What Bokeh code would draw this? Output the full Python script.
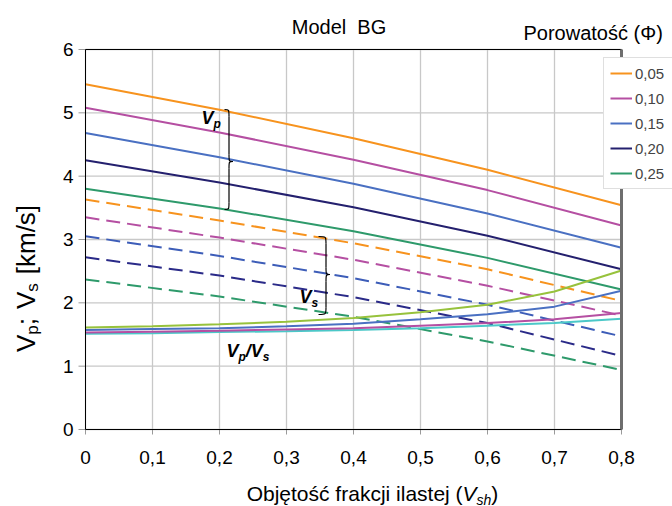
import math
from bokeh.plotting import figure
from bokeh.models import Range1d, Label, Legend, LegendItem
from bokeh.embed import file_html
from bokeh.resources import INLINE

# ---- data -----------------------------------------------------------------
vsh = [0.0, 0.2, 0.4, 0.6, 0.8]
porosity_labels = ["0,05", "0,10", "0,15", "0,20", "0,25"]

vp_005 = [5.45, 5.05, 4.60, 4.10, 3.54]
vp_010 = [5.08, 4.69, 4.26, 3.78, 3.22]
vp_015 = [4.68, 4.30, 3.88, 3.41, 2.87]
vp_020 = [4.25, 3.90, 3.51, 3.06, 2.53]
vp_025 = [3.80, 3.49, 3.13, 2.71, 2.21]

vs_005 = [3.63, 3.30, 2.94, 2.53, 2.03]
vs_010 = [3.35, 3.03, 2.68, 2.27, 1.80]
vs_015 = [3.05, 2.74, 2.39, 1.97, 1.47]
vs_020 = [2.72, 2.43, 2.09, 1.68, 1.16]
vs_025 = [2.37, 2.10, 1.78, 1.39, 0.94]

vsh_ratio = [0.0, 0.1, 0.2, 0.3, 0.4, 0.5, 0.6, 0.7, 0.8]
ratio_005 = [1.51, 1.52, 1.54, 1.55, 1.57, 1.60, 1.64, 1.68, 1.75]
ratio_010 = [1.53, 1.545, 1.56, 1.58, 1.60, 1.64, 1.68, 1.74, 1.84]
ratio_020 = [1.57, 1.585, 1.60, 1.63, 1.67, 1.74, 1.82, 1.94, 2.19]
ratio_025 = [1.61, 1.63, 1.66, 1.70, 1.76, 1.85, 1.97, 2.18, 2.51]

x_ticks = [0.0, 0.1, 0.2, 0.3, 0.4, 0.5, 0.6, 0.7, 0.8]
x_tick_labels = ["0", "0,1", "0,2", "0,3", "0,4", "0,5", "0,6", "0,7", "0,8"]
y_ticks = [0, 1, 2, 3, 4, 5, 6]
y_tick_labels = ["0", "1", "2", "3", "4", "5", "6"]

# ---- styling --------------------------------------------------------------
FONT = "Liberation Sans"
vp_colors = ["#F7931E", "#B54FA2", "#4A70C2", "#24206E", "#2E9A6B"]
vs_colors = ["#F7931E", "#B54FA2", "#3D5DB8", "#2A2A88", "#2E9A6B"]
ratio_colors = {"005": "#4BC8C8", "010": "#B54FA2", "020": "#4A70C2", "025": "#97C23C"}
GRID = "#C8C8C8"
TICK = "#9A9A9A"

W, H = 672, 506
# pixel box of the plotting area on the page
FL, FR, FT, FB = 85, 621, 49, 429
X_MIN, X_MAX, Y_MIN, Y_MAX = 0.0, 0.8, 0.0, 6.0


def dx(px):
    return X_MIN + (px - FL) * (X_MAX - X_MIN) / (FR - FL)


def dy(py):
    return Y_MIN + (FB - py) * (Y_MAX - Y_MIN) / (FB - FT)


# Arial / Liberation Sans advance widths (per 1000 em)
_W = {'V': 667, 'p': 556, ';': 278, ' ': 278, 's': 500, '[': 278, 'k': 500,
      'm': 833, '/': 278, ']': 278, 'O': 778, 'b': 556, 'j': 222, 'ę': 556,
      't': 278, 'o': 556, 'ś': 500, 'ć': 500, 'f': 278, 'r': 333, 'a': 556,
      'c': 500, 'i': 222, 'l': 222, 'e': 556, '(': 333, ')': 333, 'h': 556}
_WB = {'V': 667, 'p': 611, 's': 556, '/': 278}


def text_w(s, size, bold=False):
    tab = _WB if bold else _W
    return sum(tab.get(c, _W.get(c, 556)) for c in s) * size / 1000.0


# the frame covers the whole page; the chart box is placed through the ranges
p = figure(width=W, height=H,
           x_range=Range1d(dx(0), dx(W)), y_range=Range1d(dy(H), dy(0)),
           x_axis_location=None, y_axis_location=None,
           output_backend="svg", toolbar_location=None, min_border=0)
p.background_fill_color = "white"
p.border_fill_color = "white"
p.outline_line_color = None
p.grid.visible = False

# ---- grid, ticks, frame ------------------------------------------------------
p.segment(x0=x_ticks, y0=[Y_MIN] * len(x_ticks), x1=x_ticks, y1=[Y_MAX] * len(x_ticks),
          line_color=GRID, line_width=1.3)
p.segment(x0=[X_MIN] * len(y_ticks), y0=y_ticks, x1=[X_MAX] * len(y_ticks), y1=y_ticks,
          line_color=GRID, line_width=1.3)
# tick marks outside the box
p.segment(x0=x_ticks, y0=[Y_MIN] * len(x_ticks), x1=x_ticks, y1=[dy(FB + 5)] * len(x_ticks),
          line_color=TICK, line_width=1)
p.segment(x0=[X_MIN] * len(y_ticks), y0=y_ticks, x1=[dx(FL - 7)] * len(y_ticks), y1=y_ticks,
          line_color=TICK, line_width=1)

# ---- series ---------------------------------------------------------------
vp_series = [vp_005, vp_010, vp_015, vp_020, vp_025]
vs_series = [vs_005, vs_010, vs_015, vs_020, vs_025]

vp_renderers = []
for ys, c in zip(vp_series, vp_colors):
    vp_renderers.append(p.line(vsh, ys, line_color=c, line_width=2))
for ys, c in zip(vs_series, vs_colors):
    p.line(vsh, ys, line_color=c, line_width=2, line_dash="14 7")
for key, ys in (("005", ratio_005), ("010", ratio_010), ("020", ratio_020), ("025", ratio_025)):
    p.line(vsh_ratio, ys, line_color=ratio_colors[key], line_width=2)

# box edges: black on three sides, heavier grey on the right
p.segment(x0=[X_MIN, X_MIN, X_MIN], y0=[Y_MIN, Y_MAX, Y_MIN],
          x1=[X_MAX, X_MAX, X_MIN], y1=[Y_MIN, Y_MAX, Y_MAX],
          line_color="black", line_width=1)
p.segment(x0=[X_MAX], y0=[Y_MIN], x1=[X_MAX], y1=[Y_MAX], line_color="#6E6E6E", line_width=3)

# tick labels
p.text(x=x_ticks, y=[dy(457)] * len(x_ticks), text=x_tick_labels,
       text_font={"value": FONT}, text_font_size="19px", text_align="center",
       text_baseline="middle", text_color="black")
p.text(x=[dx(73)] * len(y_ticks), y=y_ticks, text=y_tick_labels,
       text_font={"value": FONT}, text_font_size="19px", text_align="right",
       text_baseline="middle", text_color="black")

# ---- legend ---------------------------------------------------------------
legend = Legend(items=[LegendItem(label=lab, renderers=[r])
                       for lab, r in zip(porosity_labels, vp_renderers)],
                location=(603, H - 189))
legend.label_text_font = FONT
legend.label_text_font_size = "15px"
legend.glyph_width = 22
legend.glyph_height = 18
legend.label_height = 18
legend.label_width = 50
legend.label_standoff = 3
legend.spacing = 7
legend.padding = 6
legend.margin = 0
legend.border_line_color = "#BFBFBF"
legend.background_fill_color = "white"
legend.background_fill_alpha = 1
p.add_layout(legend)


# ---- text ------------------------------------------------------------------
def add_label(px, py, text, size, style="normal", align="left", angle=0.0):
    p.add_layout(Label(x=dx(px), y=dy(py), text=text, text_font=FONT,
                       text_font_size=f"{size}px", text_font_style=style,
                       text_align=align, text_baseline="middle", angle=angle,
                       text_color="black"))


def add_rich(px, py, pieces):
    """pieces: (text, size, style, drop, advance) laid left to right around one centre line."""
    x = px
    for text, size, style, drop, adv in pieces:
        add_label(x, py + drop, text, size, style)
        x += text_w(text, size, bold="bold" in style) + adv


def rich_width(pieces):
    return sum(text_w(t, s, bold="bold" in st) + a for t, s, st, _, a in pieces)


add_label(338.5, 26, "Model\u00a0 BG", 20, align="center")
add_label(523, 32, "Porowatość (Φ)", 20, align="left")

# x axis title
xt = [("Objętość frakcji ilastej (", 21, "normal", 0, 0), ("V", 21, "italic", 0, 0),
      ("sh", 14, "italic", 6, 0), (")", 21, "normal", 0, 0)]
add_rich(372 - rich_width(xt) / 2, 493, xt)

# y axis title, rotated, reading bottom to top
yt = [("V", 26, "normal", 0, 0), ("p", 17, "normal", 7, 0), (";", 26, "normal", 0, 9),
      ("V", 26, "normal", 0, 0), ("s", 17, "normal", 7, 9), ("[km/s]", 26, "normal", 0, 0)]
y_pos = 278 + rich_width(yt) / 2
for text, size, style, drop, adv in yt:
    add_label(25 + drop, y_pos, text, size, style, angle=math.pi / 2)
    y_pos -= text_w(text, size) + adv

# curve-group annotations
add_rich(201, 117, [("V", 18, "bold italic", 0, 0), ("p", 12, "bold italic", 6, 0)])
add_rich(299, 296, [("V", 18, "bold italic", 0, 0), ("s", 12, "bold italic", 6, 0)])
add_rich(226, 350, [("V", 18, "bold italic", 0, 0), ("p", 12, "bold italic", 6, 0),
                    ("/", 18, "bold italic", 0, 0), ("V", 18, "bold italic", 0, 0),
                    ("s", 12, "bold italic", 6, 0)])


def brace(hook_px, spine_px, tip_px, top_py, mid_py, bot_py, r=7):
    """Right-facing curly brace built from bezier pieces and straight runs."""
    h, s, t = dx(hook_px), dx(spine_px), dx(tip_px)
    yt_, ym, yb = dy(top_py), dy(mid_py), dy(bot_py)
    rr = r * (Y_MAX - Y_MIN) / (FB - FT)
    kw = dict(line_color="black", line_width=1.2)
    p.bezier(x0=[h, s, t, s], y0=[yt_, ym + rr, ym, yb + rr],
             x1=[s, t, s, h], y1=[yt_ - rr, ym, ym - rr, yb],
             cx0=[s, s, s, s], cy0=[yt_, ym, ym, yb],
             cx1=[s, s, s, s], cy1=[yt_, ym, ym, yb], **kw)
    p.segment(x0=[s, s], y0=[yt_ - rr, ym - rr], x1=[s, s], y1=[ym + rr, yb + rr], **kw)


brace(224, 228.5, 232.5, 109, 161, 209)
brace(318, 325.5, 329.5, 236, 274, 314)

open("out.html", "w").write(file_html(p, INLINE))
